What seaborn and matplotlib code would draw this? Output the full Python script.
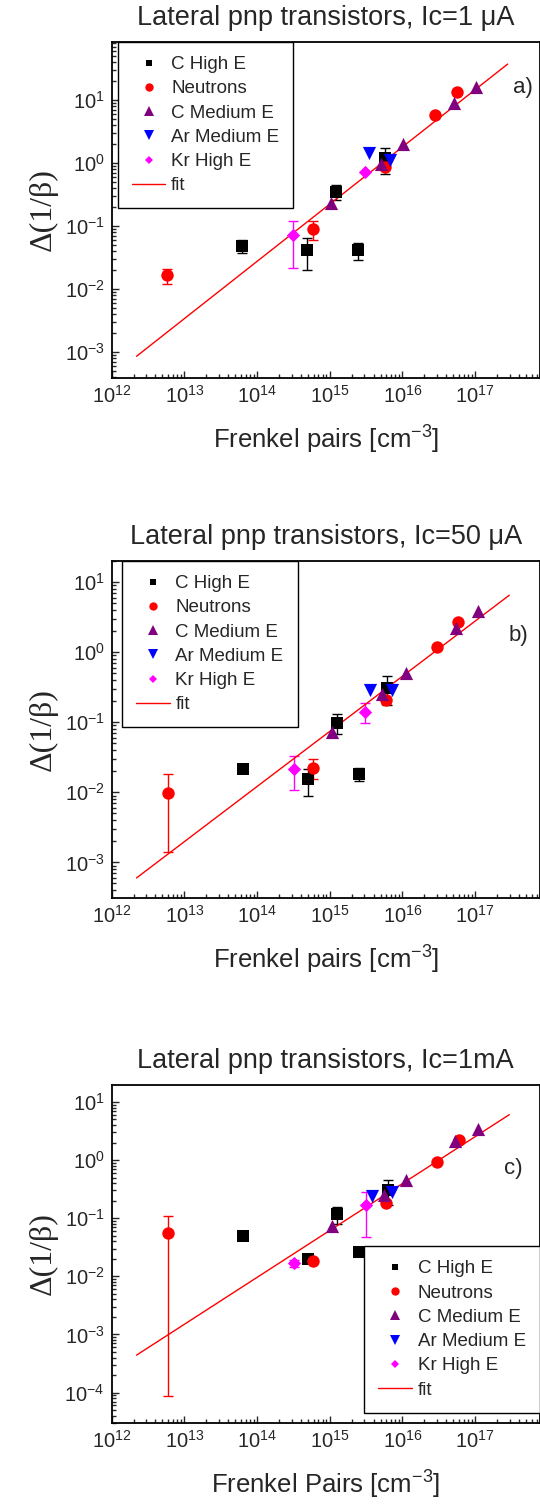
import numpy as np
import pandas as pd
import matplotlib
matplotlib.use("Agg")
import matplotlib.pyplot as plt
from matplotlib.lines import Line2D
import seaborn as sns

nan = np.nan
series = ["C High E", "Neutrons", "C Medium E", "Ar Medium E", "Kr High E"]
colors = ["black", "red", "purple", "blue", "magenta"]
markers = ["s", "o", "^", "v", "D"]

# ---- panel a) Ic = 1 uA  (lo / hi = error bar ends, nan = no bar) ----
a_name = ["C High E"] * 5 + ["Neutrons"] * 5 + ["C Medium E"] * 5 + ["Ar Medium E"] * 2 + ["Kr High E"] * 2
a_x = [6.3e13, 4.9e14, 1.22e15, 2.45e15, 5.7e15,
       5.8e12, 5.8e14, 5.7e15, 2.8e16, 5.6e16,
       1.04e15, 5.1e15, 1.02e16, 5.1e16, 1.02e17,
       3.5e15, 6.8e15,
       3.17e14, 3.1e15]
a_y = [0.049, 0.042, 0.35, 0.042, 1.19,
       0.0167, 0.090, 0.87, 5.8, 13.5,
       0.23, 0.96, 2.0, 9.1, 15.9,
       1.46, 1.12,
       0.072, 0.73]
a_lo = [0.038, 0.020, 0.26, 0.029, 0.67,
        0.012, 0.060, nan, nan, nan,
        nan, nan, nan, nan, nan,
        nan, nan,
        0.0213, nan]
a_hi = [0.060, 0.064, 0.45, 0.053, 1.71,
        0.021, 0.121, nan, nan, nan,
        nan, nan, nan, nan, nan,
        nan, nan,
        0.121, nan]
a_fit_x = [2.2e12, 2.8e17]
a_fit_y = [8.6e-4, 37.0]

# ---- panel b) Ic = 50 uA ----
b_name = a_name
b_x = [6.4e13, 5.1e14, 1.27e15, 2.55e15, 6.2e15,
       5.97e12, 5.96e14, 5.9e15, 3.0e16, 5.9e16,
       1.09e15, 5.3e15, 1.12e16, 5.5e16, 1.1e17,
       3.6e15, 7.3e15,
       3.2e14, 3.1e15]
b_y = [0.0218, 0.0153, 0.098, 0.0185, 0.31,
       0.0098, 0.0222, 0.206, 1.17, 2.71,
       0.073, 0.25, 0.50, 2.18, 3.9,
       0.286, 0.286,
       0.0213, 0.14]
b_lo = [0.020, 0.0088, 0.069, 0.0143, 0.175,
        0.0014, 0.0157, 0.18, nan, nan,
        nan, nan, nan, nan, nan,
        nan, nan,
        0.0107, 0.096]
b_hi = [0.024, 0.0218, 0.129, 0.0226, 0.45,
        0.018, 0.0295, 0.235, nan, nan,
        nan, nan, nan, nan, nan,
        nan, nan,
        0.0327, 0.189]
b_fit_x = [2.2e12, 2.95e17]
b_fit_y = [6.0e-4, 6.5]

# ---- panel c) Ic = 1 mA ----
c_name = a_name
c_x = [6.4e13, 5.1e14, 1.27e15, 2.5e15, 6.3e15,
       6.0e12, 5.96e14, 5.9e15, 3.0e16, 6.0e16,
       1.09e15, 5.5e15, 1.12e16, 5.3e16, 1.1e17,
       3.8e15, 7.3e15,
       3.2e14, 3.2e15]
c_y = [0.050, 0.020, 0.119, 0.026, 0.31,
       0.056, 0.0182, 0.184, 0.93, 2.25,
       0.073, 0.255, 0.45, 2.1, 3.44,
       0.239, 0.28,
       0.0167, 0.172]
c_lo = [nan, 0.018, 0.078, nan, 0.17,
        8.7e-5, nan, nan, nan, nan,
        nan, nan, nan, nan, nan,
        nan, nan,
        0.0145, 0.048]
c_hi = [nan, 0.021, 0.153, nan, 0.45,
        0.111, nan, nan, nan, nan,
        nan, nan, nan, nan, nan,
        nan, nan,
        0.019, 0.28]
c_fit_x = [2.2e12, 2.95e17]
c_fit_y = [4.4e-4, 6.05]

sns.set_style("ticks")
plt.rcParams["font.family"] = ["Liberation Sans", "DejaVu Sans"]
plt.rcParams["mathtext.fontset"] = "custom"
plt.rcParams["mathtext.rm"] = "Liberation Sans"
plt.rcParams["mathtext.it"] = "Liberation Sans:italic"
plt.rcParams["mathtext.default"] = "regular"

msize = {"s": 66, "o": 80, "^": 90, "v": 90, "D": 46}
leg_ms = {"s": 5, "o": 6, "^": 6.5, "v": 6.5, "D": 4.5}


def panel(ax, name, x, y, lo, hi, fit_x, fit_y, ylim, title, xlabel, tag, tag_xy,
          leg_loc, leg_anchor):
    df = pd.DataFrame({"name": name, "x": x, "y": y, "lo": lo, "hi": hi})
    ax.set_xscale("log")
    ax.set_yscale("log")
    for s, col, m in zip(series, colors, markers):
        d = df[df["name"] == s]
        eb = d.dropna(subset=["lo"])
        if len(eb):
            ax.errorbar(eb["x"], eb["y"], yerr=[eb["y"] - eb["lo"], eb["hi"] - eb["y"]],
                        fmt="none", ecolor=col, elinewidth=1, capsize=3.5, capthick=1, zorder=2)
        sns.scatterplot(data=d, x="x", y="y", marker=m, color=col, s=msize[m],
                        linewidth=0, ax=ax, zorder=3)
    sns.lineplot(x=fit_x, y=fit_y, color="red", lw=1, ax=ax, zorder=2.5)

    ax.set_xlim(1e12, 7.8e17)
    ax.set_ylim(*ylim)
    ax.set_title(title, fontsize=19.5, pad=12)
    ax.set_xlabel(xlabel, fontsize=18.5, labelpad=12)
    ax.set_ylabel("Δ(1/β)", fontsize=23, family=["Liberation Serif", "DejaVu Serif"], labelpad=5)
    ax.tick_params(which="both", direction="in", top=False, right=False, labelsize=14.5, width=1)
    ax.tick_params(which="major", length=5, pad=5)
    ax.tick_params(which="minor", length=3)
    for sp in ax.spines.values():
        sp.set_color("black")
        sp.set_linewidth(1.3)
    ax.text(tag_xy[0], tag_xy[1], tag, transform=ax.transAxes, fontsize=16, ha="center", va="center")

    handles = [Line2D([], [], ls="none", marker=m, color=col, markersize=leg_ms[m], mew=0)
               for col, m in zip(colors, markers)]
    handles.append(Line2D([], [], color="red", lw=1))
    leg = ax.legend(handles, series + ["fit"], loc=leg_loc, bbox_to_anchor=leg_anchor,
                    borderaxespad=0, fontsize=13.5, frameon=True, fancybox=False,
                    edgecolor="black", framealpha=1, handlelength=1.8, handletextpad=0.3,
                    labelspacing=0.38, borderpad=0.75)
    leg.get_frame().set_linewidth(1)


fig = plt.figure(figsize=(5.4, 15.04), dpi=100)
ax_a = fig.add_axes([0.2067, 0.7487, 0.7933, 0.2234])
ax_b = fig.add_axes([0.2067, 0.4029, 0.7933, 0.2241])
ax_c = fig.add_axes([0.2067, 0.0539, 0.7933, 0.2247])

panel(ax_a, a_name, a_x, a_y, a_lo, a_hi, a_fit_x, a_fit_y, (3.9e-4, 83),
      "Lateral pnp transistors, Ic=1 μA", "Frenkel pairs [cm$^{-3}$]", "a)", (0.96, 0.863),
      "upper left", (0.014, 1.0))
panel(ax_b, b_name, b_x, b_y, b_lo, b_hi, b_fit_x, b_fit_y, (3.1e-4, 20),
      "Lateral pnp transistors, Ic=50 μA", "Frenkel pairs [cm$^{-3}$]", "b)", (0.949, 0.78),
      "upper left", (0.024, 1.0))
panel(ax_c, c_name, c_x, c_y, c_lo, c_hi, c_fit_x, c_fit_y, (3.0e-5, 19.6),
      "Lateral pnp transistors, Ic=1mA", "Frenkel Pairs [cm$^{-3}$]", "c)", (0.937, 0.754),
      "lower right", (1.0, 0.03))

fig.savefig("out.png", dpi=100)
